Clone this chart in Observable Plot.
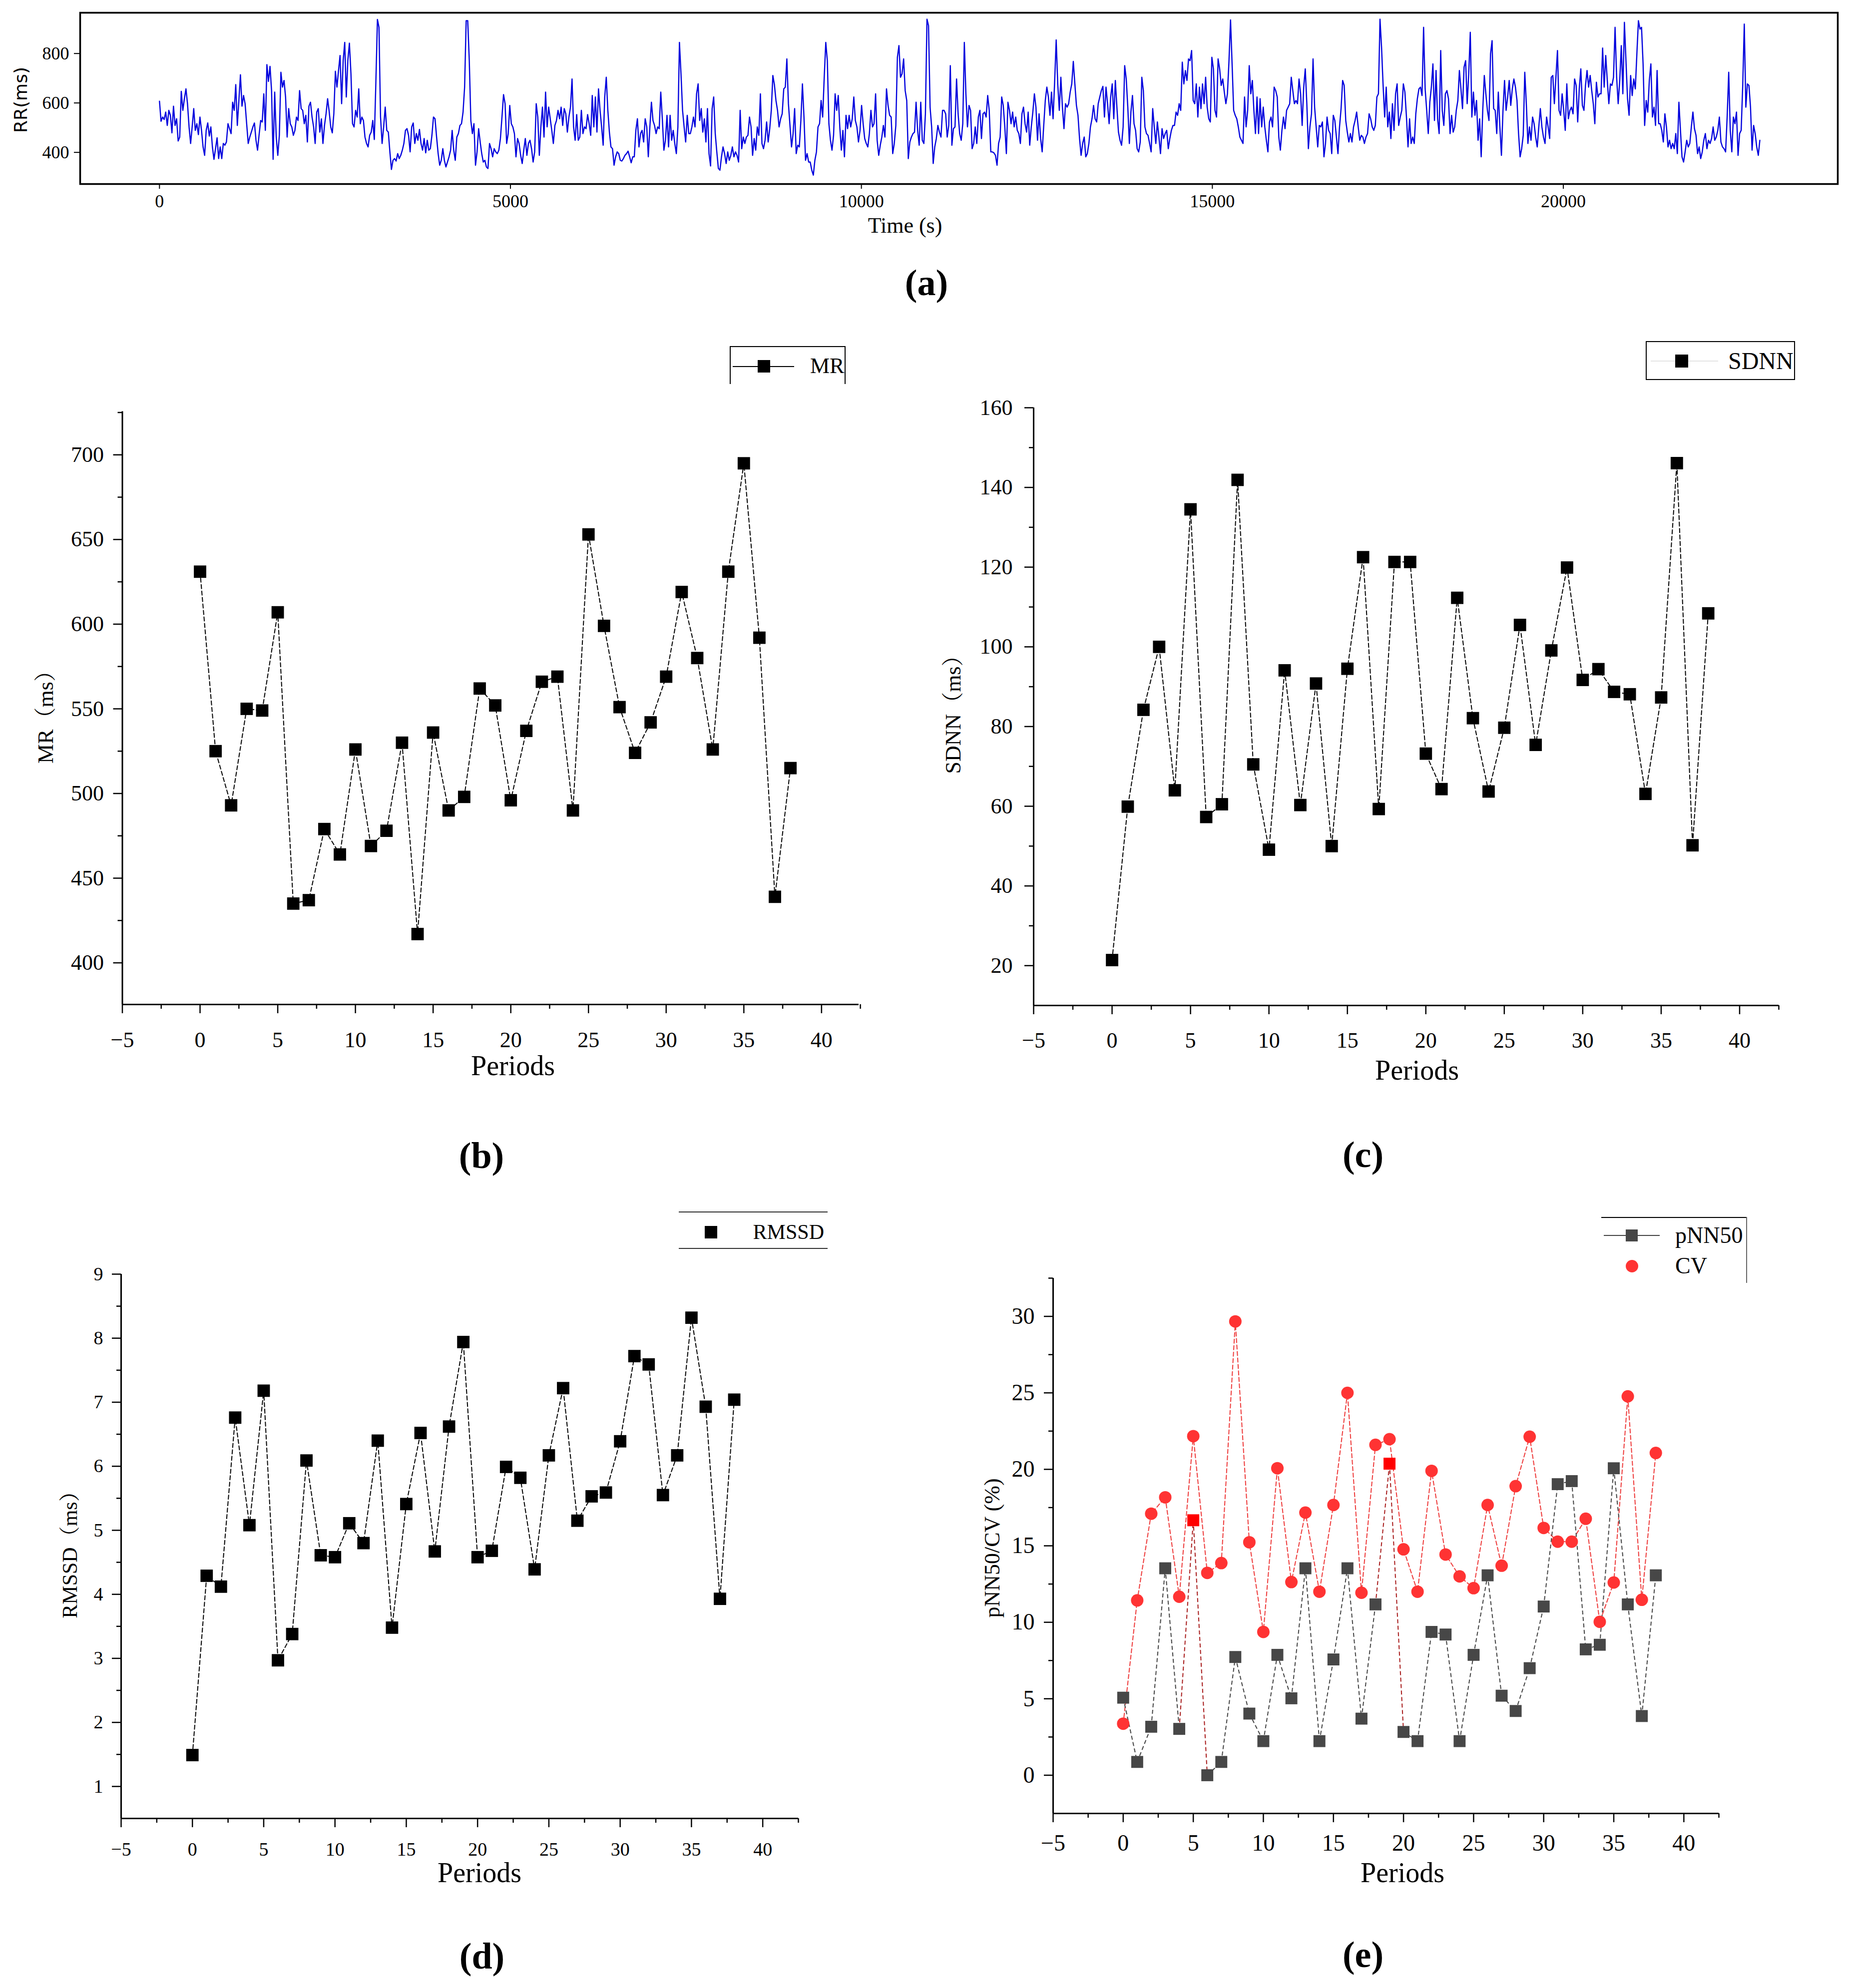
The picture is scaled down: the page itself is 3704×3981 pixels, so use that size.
<!DOCTYPE html>
<html><head><meta charset="utf-8">
<script src="https://cdn.jsdelivr.net/npm/d3@7"></script>
<script src="https://cdn.jsdelivr.net/npm/@observablehq/plot@0.6"></script>
<style>
html,body{margin:0;padding:0;background:#fff;}
#page{position:relative;width:3704px;height:3981px;overflow:hidden;background:#fff;color:#000;
  font-family:"Liberation Serif","Noto Serif CJK SC","Noto Sans CJK SC",serif;}
.abs{position:absolute;}
.lbl{position:absolute;white-space:nowrap;line-height:1;transform:translate(-50%,-50%);}
.lft{position:absolute;white-space:nowrap;line-height:1;transform:translate(0,-50%);}
.rgt{position:absolute;white-space:nowrap;line-height:1;transform:translate(-100%,-50%);}
.ylbl{position:absolute;white-space:nowrap;line-height:1;transform:translate(-50%,-50%) rotate(-90deg);}
</style></head><body><div id="page"></div>
<script>
// ---------------- DATA ----------------
// (a) RR interval series (ms), evenly spaced readings from t = 0 to 22800 s
const rrStartTime = 0, rrEndTime = 22800;
const rrValues = [
607,526,543,533,563,509,570,550,479,587,509,536,446,462,647,570,617,657,597,503,436,503,577,489,516,472,543,489,422,388,489,519,466,503,422,372,415,459,375,422,375,436,429,442,516,496,476,603,570,674,509,610,714,587,630,597,516,436,462,482,503,519,449,409,472,529,523,637,489,755,687,748,650,372,644,462,388,469,724,664,691,624,462,577,516,503,469,489,543,529,650,577,570,516,550,442,587,603,543,503,436,563,577,482,536,436,509,556,617,566,503,479,556,728,664,731,792,597,772,845,624,772,842,718,516,503,570,543,657,516,543,529,462,436,422,469,482,529,452,684,938,906,543,436,503,583,489,482,402,331,368,375,365,395,375,388,409,436,489,496,469,402,503,519,436,476,449,493,436,409,456,398,449,409,415,469,543,536,462,395,348,368,415,368,341,361,382,409,489,409,368,462,476,509,516,563,664,933,933,772,529,476,516,348,402,496,442,395,361,368,341,335,436,415,382,415,402,395,409,456,543,634,597,436,476,590,516,503,476,382,456,436,388,355,409,456,388,436,449,415,361,402,597,543,388,503,583,462,644,503,583,536,489,436,509,529,570,536,583,509,577,556,482,
543,583,697,503,449,553,449,462,570,476,503,496,553,516,469,630,503,624,482,657,570,503,429,624,704,570,482,422,415,348,382,402,395,368,365,375,388,395,405,382,358,382,382,489,536,422,476,489,442,536,503,382,503,603,529,509,476,503,496,644,536,409,449,550,422,550,449,489,436,395,503,845,718,570,503,442,550,476,476,503,543,503,637,677,529,577,482,536,442,577,395,345,577,624,476,402,335,328,382,422,395,355,402,368,388,422,382,402,388,361,570,415,462,436,462,469,543,503,388,456,409,503,469,637,436,415,449,523,442,496,570,711,674,610,570,503,536,556,657,664,778,597,509,422,476,577,395,429,422,529,677,543,368,395,361,361,328,308,368,402,503,516,610,543,704,845,771,516,449,409,469,637,570,630,503,409,489,382,550,496,550,503,536,624,529,503,442,489,590,516,456,436,422,476,570,503,516,637,449,388,429,462,509,462,657,590,550,543,395,436,509,785,832,704,718,778,650,610,375,442,462,476,482,603,489,429,603,449,436,556,939,913,583,503,355,422,456,509,482,462,570,570,556,462,509,751,429,496,503,697,556,476,449,516,845,637,503,590,
570,415,436,503,436,543,570,456,556,563,543,630,570,402,402,398,388,348,436,462,624,590,503,395,603,570,516,563,503,543,489,476,436,556,583,516,482,563,429,503,563,637,583,449,556,456,402,509,610,664,624,550,644,536,684,855,677,570,704,583,496,597,583,597,644,677,768,677,590,550,456,388,436,462,382,395,436,503,536,590,536,523,597,624,650,667,543,664,597,516,624,677,536,691,583,482,449,429,503,751,697,583,436,563,630,516,489,415,402,442,704,650,503,476,469,436,402,577,503,436,523,462,395,496,456,476,489,415,456,489,509,509,563,550,597,570,765,677,731,691,778,771,812,610,597,677,543,664,577,677,597,704,583,536,523,785,738,570,543,778,738,671,697,644,597,637,771,936,758,570,550,536,503,462,449,436,624,503,570,751,637,691,570,476,624,476,617,503,583,503,449,402,523,543,503,664,650,624,462,409,489,543,496,570,583,597,704,650,597,610,597,697,637,509,664,738,597,415,503,556,778,583,503,422,509,503,523,382,436,543,489,476,395,550,529,462,395,503,577,691,671,529,482,442,476,442,503,529,563,503,449,469,462,436,462,
476,556,536,503,489,509,624,637,939,825,671,543,664,503,563,456,597,489,637,677,509,543,570,677,644,543,422,536,436,462,436,556,617,657,664,630,906,657,570,476,603,664,758,529,731,536,476,812,570,509,637,650,617,476,550,482,503,570,610,731,657,577,745,771,597,718,886,543,644,550,610,449,536,382,570,711,637,570,529,798,852,577,570,476,644,503,388,570,691,570,624,691,590,657,697,664,610,476,382,415,469,724,597,436,503,449,543,516,462,422,503,577,503,462,436,543,503,456,704,711,597,704,812,570,550,637,570,489,677,536,570,583,556,697,671,523,657,738,590,570,671,731,664,711,650,597,516,684,624,637,637,822,664,792,691,597,677,671,704,906,704,597,691,832,637,926,771,617,550,711,630,697,657,798,933,899,906,758,509,610,563,691,758,543,583,509,731,516,516,489,442,556,503,422,449,415,436,415,476,395,603,489,382,361,402,449,422,436,503,563,496,469,395,422,375,402,449,476,415,449,436,456,503,449,462,489,543,442,422,415,402,543,724,489,402,543,516,563,388,476,489,671,919,583,677,671,583,409,509,476,422,388,449
];
const rrTimeTicks = [0, 5000, 10000, 15000, 20000];
const rrValueTicks = [400, 600, 800];

// (b)-(e) per-period indices
const periods = [0,1,2,3,4,5,6,7,8,9,10,11,12,13,14,15,16,17,18,19,20,21,22,23,24,25,26,27,28,29,30,31,32,33,34,35,36,37,38];
const periodTicks = [-5,0,5,10,15,20,25,30,35,40];
const periodMinorTicks = [-2.5,2.5,7.5,12.5,17.5,22.5,27.5,32.5,37.5,42.5];

const mrValues = [631,525,493,550,549,607,435,437,479,464,526,469,478,530,417,536,490,498,562,552,496,537,566,569,490,653,599,551,524,542,569,619,580,526,631,695,592,439,515];
const mrTicks = [400,450,500,550,600,650,700];
const mrMinorTicks = [425,475,525,575,625,675,725];

const sdnnValues = [21.4,59.9,84.2,100,64,134.5,57.3,60.5,141.9,70.5,49.1,94.1,60.3,90.8,50,94.5,122.5,59.3,121.3,121.3,73.2,64.3,112.3,82.1,63.7,79.7,105.5,75.4,99.1,119.9,91.7,94.4,88.7,88.1,63.1,87.3,146.1,50.2,108.4];
const sdnnTicks = [20,40,60,80,100,120,140,160];
const sdnnMinorTicks = [30,50,70,90,110,130,150];

const rmssdValues = [1.49,4.29,4.12,6.76,5.08,7.18,2.97,3.38,6.09,4.61,4.58,5.11,4.80,6.40,3.48,5.41,6.52,4.67,6.62,7.94,4.58,4.68,5.99,5.82,4.39,6.17,7.22,5.15,5.53,5.59,6.39,7.72,7.59,5.55,6.17,8.32,6.93,3.93,7.04];
const rmssdTicks = [1,2,3,4,5,6,7,8,9];
const rmssdMinorTicks = [1.5,2.5,3.5,4.5,5.5,6.5,7.5,8.5];

const pnn50Values = [5.07,0.87,3.17,13.53,3.03,16.67,0,0.87,7.73,4.03,2.23,7.87,5.03,13.53,2.23,7.57,13.53,3.7,11.17,20.37,2.83,2.23,9.37,9.2,2.23,7.87,13.07,5.2,4.2,7.0,11.03,19.03,19.23,8.23,8.53,20.07,11.17,3.87,13.07];
const cvValues = [3.37,11.43,17.1,18.17,11.67,22.17,13.23,13.87,29.67,15.23,9.37,20.07,12.63,17.17,12.0,17.67,25.0,11.93,21.6,21.97,14.77,12.0,19.9,14.43,13.0,12.23,17.67,13.7,18.9,22.13,16.17,15.27,15.27,16.77,10.03,12.6,24.77,11.47,21.07];
const highlightedPeriods = [5, 19];
const pctTicks = [0,5,10,15,20,25,30];
const pctMinorTicks = [2.5,7.5,12.5,17.5,22.5,27.5,32.5];

// ---------------- HELPERS ----------------
const page = document.getElementById("page");
const SERIF = '"Liberation Serif","Noto Serif CJK SC","Noto Sans CJK SC",serif';
const SANS = '"DejaVu Sans","Liberation Sans",sans-serif';
const intFmt = (d) => d3.format("d")(d);

function place(node, left, top, w) {
  const d = document.createElement("div");
  d.className = "abs";
  d.style.left = left + "px"; d.style.top = top + "px";
  if (w) d.style.width = w + "px";
  d.appendChild(node);
  page.appendChild(d);
}
function label(str, x, y, size, cls = "lbl", extra = {}) {
  const d = document.createElement("div");
  d.className = cls;
  d.textContent = str;
  d.style.left = x + "px"; d.style.top = y + "px";
  d.style.fontSize = size + "px";
  Object.assign(d.style, extra);
  page.appendChild(d);
}
function box(left, top, w, h, css) {
  const d = document.createElement("div");
  d.style.position = "absolute";
  d.style.left = left + "px"; d.style.top = top + "px";
  d.style.width = w + "px"; d.style.height = h + "px";
  d.style.boxSizing = "border-box";
  Object.assign(d.style, css);
  page.appendChild(d);
}

// ---------------- (a) ----------------
const rrStep = (rrEndTime - rrStartTime) / (rrValues.length - 1);
const rr = rrValues.map((v, i) => ({t: rrStartTime + i * rrStep, v}));
const plotA = Plot.plot({
  width: 3704, height: 430,
  marginLeft: 160, marginRight: 25, marginTop: 25, marginBottom: 62,
  x: {domain: [-1130, 23910]},
  y: {domain: [272, 965]},
  style: {fontFamily: SERIF, fontSize: "36px", background: "white", maxWidth: "none", overflow: "visible"},
  marks: [
    Plot.line(rr, {x: "t", y: "v", stroke: "#0000dd", strokeWidth: 2.4}),
    Plot.frame({stroke: "#000", strokeWidth: 3.5}),
    Plot.axisX(rrTimeTicks, {tickSize: 10, tickPadding: 11, strokeWidth: 2, label: null, tickFormat: intFmt}),
    Plot.axisY(rrValueTicks, {tickSize: 12, tickPadding: 10, strokeWidth: 2, label: null, tickFormat: intFmt})
  ]
});
place(plotA, 0, 0, 3704);
label("RR(ms)", 42, 200, 36, "ylbl", {fontFamily: SANS});
label("Time (s)", 1812, 452, 44);
label("(a)", 1855, 566, 74, "lbl", {fontWeight: "bold"});

// ---------------- period panels ----------------
function periodPlot(cfg) {
  const data = periods.map((p, i) => ({p, v: cfg.values ? cfg.values[i] : null}));
  return Plot.plot({
    width: cfg.w, height: cfg.h,
    marginLeft: cfg.ml, marginRight: cfg.mr, marginTop: cfg.mt, marginBottom: cfg.mb,
    x: {domain: cfg.xd},
    y: {domain: cfg.yd},
    style: {fontFamily: SERIF, fontSize: cfg.fs + "px", background: "white", maxWidth: "none", overflow: "visible"},
    marks: [
      Plot.ruleX([cfg.xd[0]], {strokeWidth: 3}),
      Plot.ruleY([cfg.yd[0]], {strokeWidth: 3}),
      Plot.axisX(periodTicks, {tickSize: 18, tickPadding: cfg.xpad, strokeWidth: 2.5, label: null, tickFormat: intFmt}),
      Plot.axisX(periodMinorTicks, {tickSize: 9, tickFormat: () => "", strokeWidth: 2.5, label: null}),
      Plot.axisY(cfg.yticks, {tickSize: 18, tickPadding: cfg.ypad, strokeWidth: 2.5, label: null, tickFormat: intFmt}),
      Plot.axisY(cfg.yminor, {tickSize: 9, tickFormat: () => "", strokeWidth: 2.5, label: null}),
      ...cfg.marks(data)
    ]
  });
}
const blackSeries = (data) => [
  Plot.line(data, {x: "p", y: "v", stroke: "#000", strokeWidth: 2, strokeDasharray: "8,5"}),
  Plot.dot(data, {x: "p", y: "v", symbol: "square", r: 14, fill: "#000", stroke: "none"})
];

// (b)
place(periodPlot({
  values: mrValues, w: 1760, h: 1350, ml: 244.5, mr: 41, mt: 43.5, mb: 119,
  xd: [-5, 42.4], yd: [375.4, 725.6], yticks: mrTicks, yminor: mrMinorTicks,
  fs: 44, xpad: 36, ypad: 19, marks: blackSeries
}), 0, 780, 1760);
label("MR（ms）", 92, 1425, 44, "ylbl");
label("Periods", 1027, 2134, 56);
label("(b)", 964, 2314, 74, "lbl", {fontWeight: "bold"});
box(1461, 693, 232, 76, {borderTop: "2px solid #000", borderLeft: "2px solid #000", borderRight: "2px solid #000"});
box(1467, 732.5, 123, 2, {background: "#000"});
box(1529 - 12.5, 733 - 12.5, 25, 25, {background: "#000"});
label("MR", 1622, 733, 44, "lft");

// (c)
place(periodPlot({
  values: sdnnValues, w: 1854, h: 1350, ml: 219, mr: 143, mt: 36, mb: 117,
  xd: [-5, 42.5], yd: [10, 160], yticks: sdnnTicks, yminor: sdnnMinorTicks,
  fs: 44, xpad: 35, ypad: 24, marks: blackSeries
}), 1850, 780, 1854);
label("SDNN（ms）", 1909, 1420, 44, "ylbl");
label("Periods", 2837, 2143, 56);
label("(c)", 2729, 2312, 74, "lbl", {fontWeight: "bold"});
box(3295, 683, 299, 78, {border: "2px solid #000"});
box(3305, 722, 135, 2, {background: "#e4e4e4"});
box(3367 - 13, 723 - 13, 26, 26, {background: "#000"});
label("SDNN", 3460, 723, 48, "lft");

// (d)
place(periodPlot({
  values: rmssdValues, w: 1750, h: 1260, ml: 242, mr: 152, mt: 51, mb: 119,
  xd: [-5, 42.5], yd: [0.5, 9], yticks: rmssdTicks, yminor: rmssdMinorTicks,
  fs: 38, xpad: 30, ypad: 18, marks: blackSeries
}), 0, 2500, 1750);
label("RMSSD（ms）", 140, 3103, 42, "ylbl");
label("Periods", 960, 3750, 56);
label("(d)", 965, 3917, 74, "lbl", {fontWeight: "bold"});
box(1359, 2426, 298, 2, {background: "#333"});
box(1359, 2498.5, 298, 2, {background: "#333"});
box(1423 - 12.5, 2467 - 12.5, 25, 25, {background: "#000"});
label("RMSSD", 1650, 2467, 42, "rgt");

// (e)
const pnnSegments = periods.slice(1).map((p, i) => ({
  x1: periods[i], y1: pnn50Values[i], x2: p, y2: pnn50Values[i + 1],
  hi: highlightedPeriods.includes(periods[i]) || highlightedPeriods.includes(p)
}));
const pnnPoints = periods.map((p, i) => ({p, v: pnn50Values[i], hi: highlightedPeriods.includes(p)}));
const cvPoints = periods.map((p, i) => ({p, v: cvValues[i]}));
place(periodPlot({
  w: 1700, h: 1260, ml: 208, mr: 159, mt: 59, mb: 129,
  xd: [-5, 42.5], yd: [-2.5, 32.5], yticks: pctTicks, yminor: pctMinorTicks,
  fs: 46, xpad: 24, ypad: 19,
  marks: () => [
    Plot.line(cvPoints, {x: "p", y: "v", stroke: "#ee3b3b", strokeWidth: 2, strokeDasharray: "8,5"}),
    Plot.link(pnnSegments, {x1: "x1", y1: "y1", x2: "x2", y2: "y2",
      stroke: (d) => d.hi ? "#a81c1c" : "#444", strokeWidth: 2, strokeDasharray: "8,5"}),
    Plot.dot(pnnPoints.filter(d => !d.hi), {x: "p", y: "v", symbol: "square", r: 13.5, fill: "#474747", stroke: "none"}),
    Plot.dot(cvPoints, {x: "p", y: "v", r: 12.5, fill: "#ff3333", stroke: "none"}),
    Plot.dot(pnnPoints.filter(d => d.hi), {x: "p", y: "v", symbol: "square", r: 13.5, fill: "#ff0000", stroke: "none"})
  ]
}), 1900, 2500, 1700);
label("pNN50/CV (%)", 1987, 3100, 44, "ylbl");
label("Periods", 2808, 3750, 56);
label("(e)", 2729, 3914, 74, "lbl", {fontWeight: "bold"});
box(3206, 2437, 292, 2, {background: "#000"});
box(3496, 2437, 2, 132, {background: "#666"});
box(3211, 2473, 112, 2, {background: "#444"});
box(3267 - 12, 2474 - 12, 24, 24, {background: "#474747"});
label("pNN50", 3354, 2474, 46, "lft");
box(3267 - 12.5, 2535 - 12.5, 25, 25, {background: "#ff3333", borderRadius: "50%"});
label("CV", 3354, 2535, 46, "lft");
</script>
</body></html>
